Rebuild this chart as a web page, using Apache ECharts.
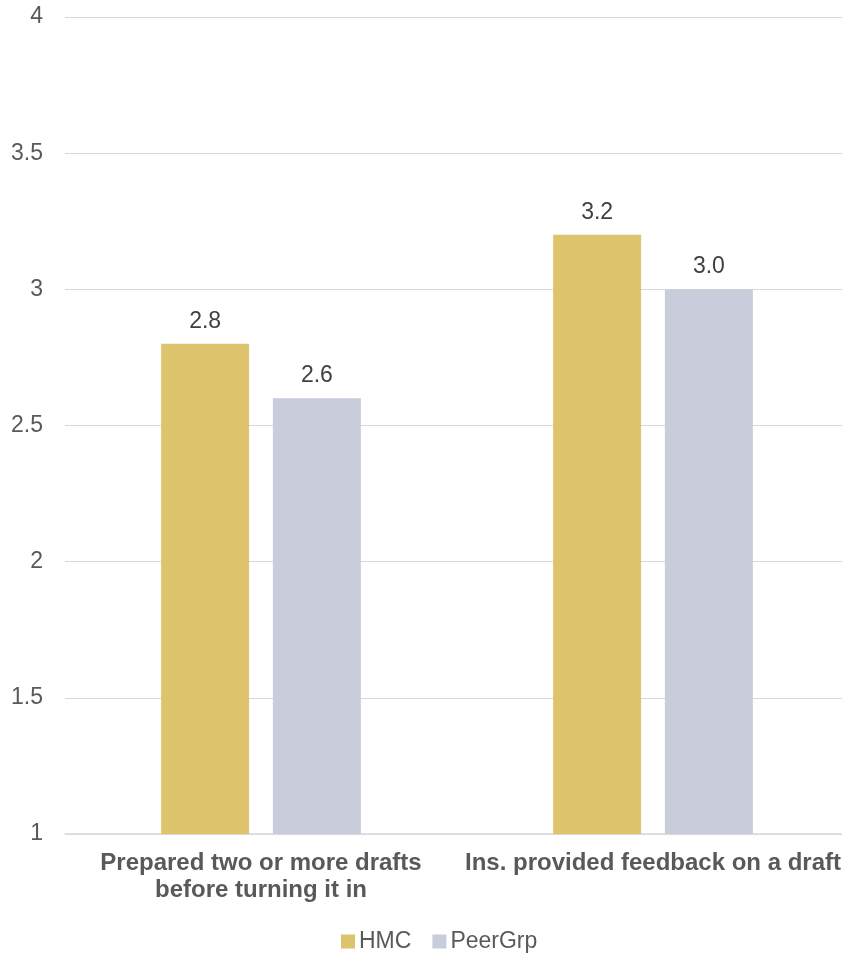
<!DOCTYPE html>
<html>
<head>
<meta charset="utf-8">
<script src="https://cdn.jsdelivr.net/npm/echarts@6/dist/echarts.min.js"></script>
<style>
  html, body { margin: 0; padding: 0; background: #fff; overflow: hidden; }
  #chart { width: 842px; height: 954px; }
</style>
</head>
<body>
<div id="chart"></div>
<script>
// Survey items on the category axis
const categories = [
  'Prepared two or more drafts\nbefore turning it in',
  'Ins. provided feedback on a draft'
];
// Mean scores per group
const hmcValues = [2.8, 3.2];
const peerValues = [2.6, 3.0];
const seriesNames = ['HMC', 'PeerGrp'];

const font = 'Liberation Sans, Arial, sans-serif';
const chart = echarts.init(document.getElementById('chart'));

const labelStyle = {
  show: true,
  position: 'top',
  distance: 11,
  fontFamily: font,
  fontSize: 23,
  color: '#404040',
  formatter: p => p.value.toFixed(1)
};

chart.setOption({
  animation: false,
  textStyle: { fontFamily: font },
  // plot area runs slightly past the right edge of the canvas
  grid: {
    left: 65, width: 784, top: 17, bottom: 120,
    containLabel: false,
    outerBoundsMode: 'none'
  },
  legend: {
    data: seriesNames,
    top: 925,
    left: 336,
    itemWidth: 14,
    itemHeight: 14,
    itemGap: 21,
    icon: 'rect',
    textStyle: { fontFamily: font, fontSize: 23, color: '#595959', padding: [0, 0, 0, -1] }
  },
  xAxis: {
    type: 'category',
    data: categories,
    axisTick: { show: false },
    axisLine: { lineStyle: { color: '#D9D9D9', width: 1.5 } },
    axisLabel: {
      interval: 0,
      hideOverlap: false,
      fontFamily: font,
      fontSize: 24,
      fontWeight: 'bold',
      color: '#595959',
      lineHeight: 27,
      margin: 16
    }
  },
  yAxis: {
    type: 'value',
    min: 1,
    max: 4,
    interval: 0.5,
    axisLine: { show: false },
    axisTick: { show: false },
    splitLine: { lineStyle: { color: '#D9D9D9', width: 1 } },
    axisLabel: {
      fontFamily: font,
      fontSize: 23,
      color: '#595959',
      margin: 22
    }
  },
  series: [
    {
      name: seriesNames[0],
      type: 'bar',
      data: hmcValues,
      barWidth: 88,
      barGap: '27%',
      itemStyle: { color: '#DDC36B' },
      label: labelStyle
    },
    {
      name: seriesNames[1],
      type: 'bar',
      data: peerValues,
      barWidth: 88,
      itemStyle: { color: '#C9CCDB' },
      label: labelStyle
    }
  ]
});
</script>
</body>
</html>
